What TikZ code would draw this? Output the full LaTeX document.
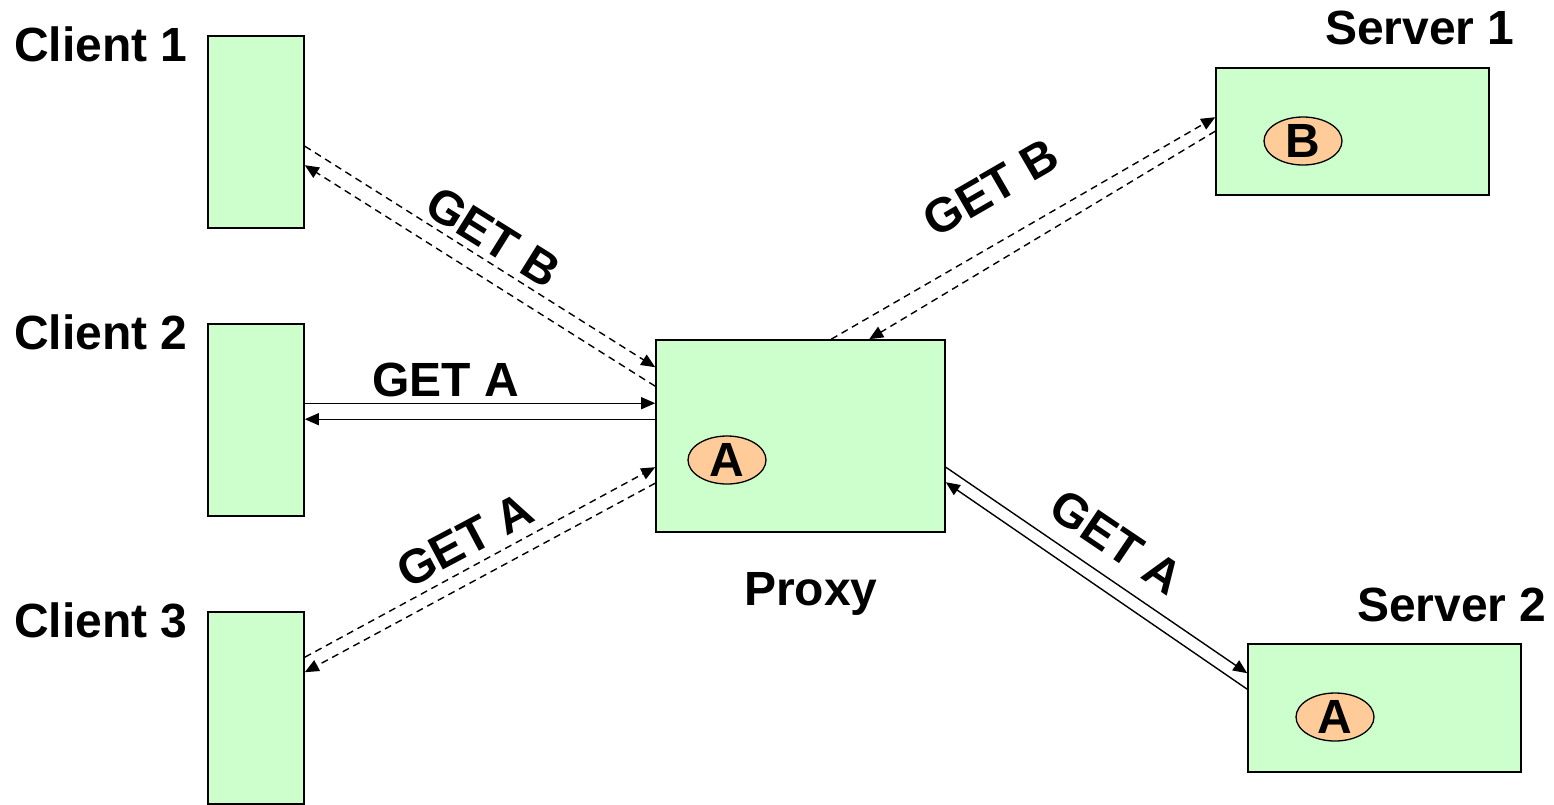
\documentclass[tikz,border=0pt]{standalone}
\usepackage{fontspec}
\setmainfont{Liberation Sans}
\usetikzlibrary{arrows.meta,shapes.geometric}
\definecolor{boxgreen}{RGB}{204,255,204}
\definecolor{peach}{RGB}{255,204,153}
\tikzset{
  host/.style={draw=black,line width=1.6pt,fill=boxgreen,inner sep=0pt,rectangle},
  doc/.style={draw=black,line width=1.3pt,fill=peach,ellipse,inner sep=0pt,minimum width=78pt,minimum height=48pt,font=\fontsize{48}{50}\selectfont\bfseries},
  lbl/.style={inner sep=0pt,font=\fontsize{48}{50}\selectfont\bfseries},
  conn/.style={line width=1.4pt,-{Triangle[length=14pt,width=12pt]}},
  dconn/.style={conn,dash pattern=on 7pt off 5pt}
}
\begin{document}
\begin{tikzpicture}[x=1pt,y=-1pt]
\useasboundingbox (0,0) rectangle (1554,804);
% hosts
\node[host,minimum width=96pt,minimum height=192pt] (c1) at (256,132) {};
\node[host,minimum width=96pt,minimum height=192pt] (c2) at (256,420) {};
\node[host,minimum width=96pt,minimum height=192pt] (c3) at (256,708) {};
\node[host,minimum width=289pt,minimum height=192pt] (px) at (800.5,436) {};
\node[host,minimum width=273pt,minimum height=127pt] (s1) at (1352.5,131.5) {};
\node[host,minimum width=273pt,minimum height=128pt] (s2) at (1384.5,708) {};
% documents
\node[doc] (da) at (727,460) {A};
\node[doc] (db) at (1303,141) {B};
\node[doc] (dc) at (1335,717) {A};
% names
\node[lbl,anchor=base west] (l1) at (14,61) {Client 1};
\node[lbl,anchor=base west] (l2) at (14,349) {Client 2};
\node[lbl,anchor=base west] (l3) at (14,637) {Client 3};
\node[lbl,anchor=base west] (ls1) at (1325,44) {Server 1};
\node[lbl,anchor=base west] (ls2) at (1357,621) {Server 2};
\node[lbl,anchor=base west] (lp) at (744,605) {Proxy};
% connectors client 1 <-> proxy (dashed)
\draw[dconn] ([yshift=-111pt]c1.north east) -- ([yshift=-28pt]px.north west);
\draw[dconn] ([yshift=-47pt]px.north west) -- ([yshift=-130pt]c1.north east);
% client 2 <-> proxy (solid)
\draw[conn] ([yshift=-80pt]c2.north east) -- ([yshift=-64pt]px.north west);
\draw[conn] ([yshift=-80pt]px.north west) -- ([yshift=-96pt]c2.north east);
% client 3 <-> proxy (dashed)
\draw[dconn] ([yshift=-46pt]c3.north east) -- ([yshift=-128pt]px.north west);
\draw[dconn] ([yshift=-144pt]px.north west) -- ([yshift=-61pt]c3.north east);
% proxy <-> server 1 (dashed)
\draw[dconn] ([xshift=176pt]px.north west) -- ([yshift=-50pt]s1.north west);
\draw[dconn] ([yshift=-64pt]s1.north west) -- ([xshift=214pt]px.north west);
% proxy <-> server 2 (solid)
\draw[conn] ([yshift=-128pt]px.north east) -- ([yshift=-30pt]s2.north west);
\draw[conn] ([yshift=-46pt]s2.north west) -- ([yshift=-143pt]px.north east);
% connector labels
\node[lbl,rotate=-32] (g1) at (493,237) {GET B};
\node[lbl,anchor=base west] (g2) at (372,396) {GET A};
\node[lbl,rotate=28] (g3) at (465,540) {GET A};
\node[lbl,rotate=30] (g4) at (991,188) {GET B};
\node[lbl,rotate=-34] (g5) at (1117,542) {GET A};
\end{tikzpicture}
\end{document}
